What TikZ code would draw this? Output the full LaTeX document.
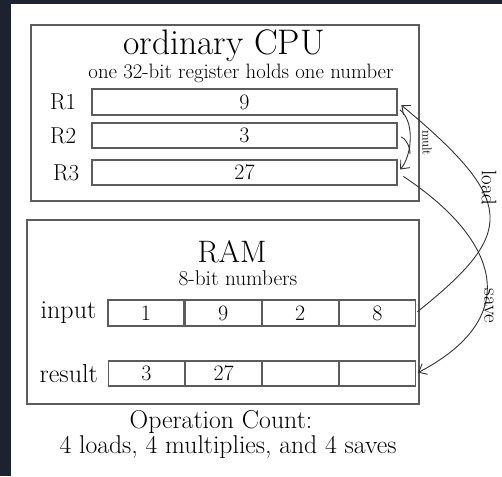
\documentclass[tikz,border=0pt]{standalone}
\usepackage{tikz}
\usetikzlibrary{
  arrows.meta,
  positioning
}
\definecolor{night}{HTML}{1C2230}
\definecolor{sheet}{HTML}{FFFFFF}
\definecolor{edge}{HTML}{5C5C5C}
\definecolor{ink}{HTML}{000000}
\definecolor{wire}{HTML}{333333}
\newcommand{\Size}[1]{\fontsize{#1}{#1}\selectfont}
\tikzset{
  panel/.style={
    draw=edge,
    line width=1.4pt,
    inner sep=0pt
  },
  regbox/.style={
    draw=edge,
    line width=1.1pt,
    minimum width=305pt,
    minimum height=26pt,
    inner sep=0pt,
    text=ink,
    font=\Size{22}
  },
  memcell/.style={
    draw=edge,
    line width=1.1pt,
    minimum width=76pt,
    minimum height=26pt,
    inner sep=0pt,
    text=ink,
    font=\Size{22}
  },
  tag/.style={
    inner sep=0pt,
    text=ink,
    font=\Size{23}
  },
  heading/.style={
    anchor=base,
    inner sep=0pt,
    text=ink
  },
  move/.style={
    -{Straight Barb[length=7pt,width=12pt]},
    draw=wire,
    line width=0.9pt
  },
  movelabel/.style={
    rotate=-90,
    inner sep=0pt,
    text=ink
  }
}

\begin{document}
\begin{tikzpicture}[x=1pt, y=1pt]
    % backdrop
    \fill[night] (0,0) rectangle (502,-476);
    \fill[sheet] (11,-4) rectangle (502,-476);
    \useasboundingbox (0,0) rectangle (502,-476);

    % cpu
    \node[panel, minimum width=388pt, minimum height=176pt] (cpu) at (225,-113) {};
    \node[heading, font=\Size{35.5}] (cputitle) at (224,-55) {ordinary CPU};
    \node[heading, font=\Size{20.8}] (cpunote) at (241,-78)
      {one 32-bit register holds one number};
    \node[regbox] (r1) at (244.5,-102) {9};
    \node[regbox, minimum height=25pt] (r2) at (244.5,-135.5) {3};
    \node[regbox, minimum height=25pt] (r3) at (244.5,-172.5) {27};
    \node[tag, left=15pt of r1] (r1tag) {R1};
    \node[tag, left=15pt of r2] (r2tag) {R2};
    \node[tag, left=12pt of r3] (r3tag) {R3};

    % ram
    \node[panel, minimum width=392pt, minimum height=184pt] (ram) at (223,-312) {};
    \node[heading, font=\Size{31}] (ramtitle) at (232,-262) {RAM};
    \node[heading, font=\Size{21.3}] (ramnote) at (238,-285) {8-bit numbers};
    \node[memcell] (in1) at (146,-313) {1};
    \node[memcell, right=0pt of in1] (in2) {9};
    \node[memcell, right=0pt of in2] (in3) {2};
    \node[memcell, right=0pt of in3] (in4) {8};
    \node[memcell, minimum height=25pt] (out1) at (146.5,-373.5) {3};
    \node[memcell, minimum height=25pt, right=0pt of out1] (out2) {27};
    \node[memcell, minimum height=25pt, right=0pt of out2] (out3) {};
    \node[memcell, minimum height=25pt, right=0pt of out3] (out4) {};
    \node[tag, font=\Size{26}, left=11pt of in1] (intag) {input};
    \node[tag, font=\Size{26}, left=10pt of out1] (outtag) {result};

    % operation count
    \node[heading, font=\Size{25.8}] (count) at (221,-428) {Operation Count:};
    \node[heading, font=\Size{25.7}] (tally) at (228,-453)
      {4 loads, 4 multiplies, and 4 saves};

    % transfers
    \coordinate (multjoin) at (410,-154);
    \draw[move, shorten <=3pt, shorten >=4pt] ([yshift=-6pt]r1.east)
      .. controls +(18,-14) and +(14,16) .. (r3.east);
    \draw[draw=wire, line width=0.9pt, shorten <=4pt] (r2.east)
      .. controls +(8,-3) and +(0,8) .. (multjoin);
    \node[movelabel, font=\Size{13}] (multlabel) at (427,-143) {mult};

    \draw[move, shorten <=2pt, shorten >=5pt] (in4.east)
      .. controls +(100,80) and +(120,-100) .. (r1.east);
    \node[movelabel, font=\Size{21}] (loadlabel) at (489,-188) {load};

    \draw[move, shorten <=7pt, shorten >=2pt] (r3.east)
      .. controls +(105,-70) and +(105,55) .. (out4.east);
    \node[movelabel, font=\Size{21}] (savelabel) at (489,-306) {save};
\end{tikzpicture}
\end{document}
